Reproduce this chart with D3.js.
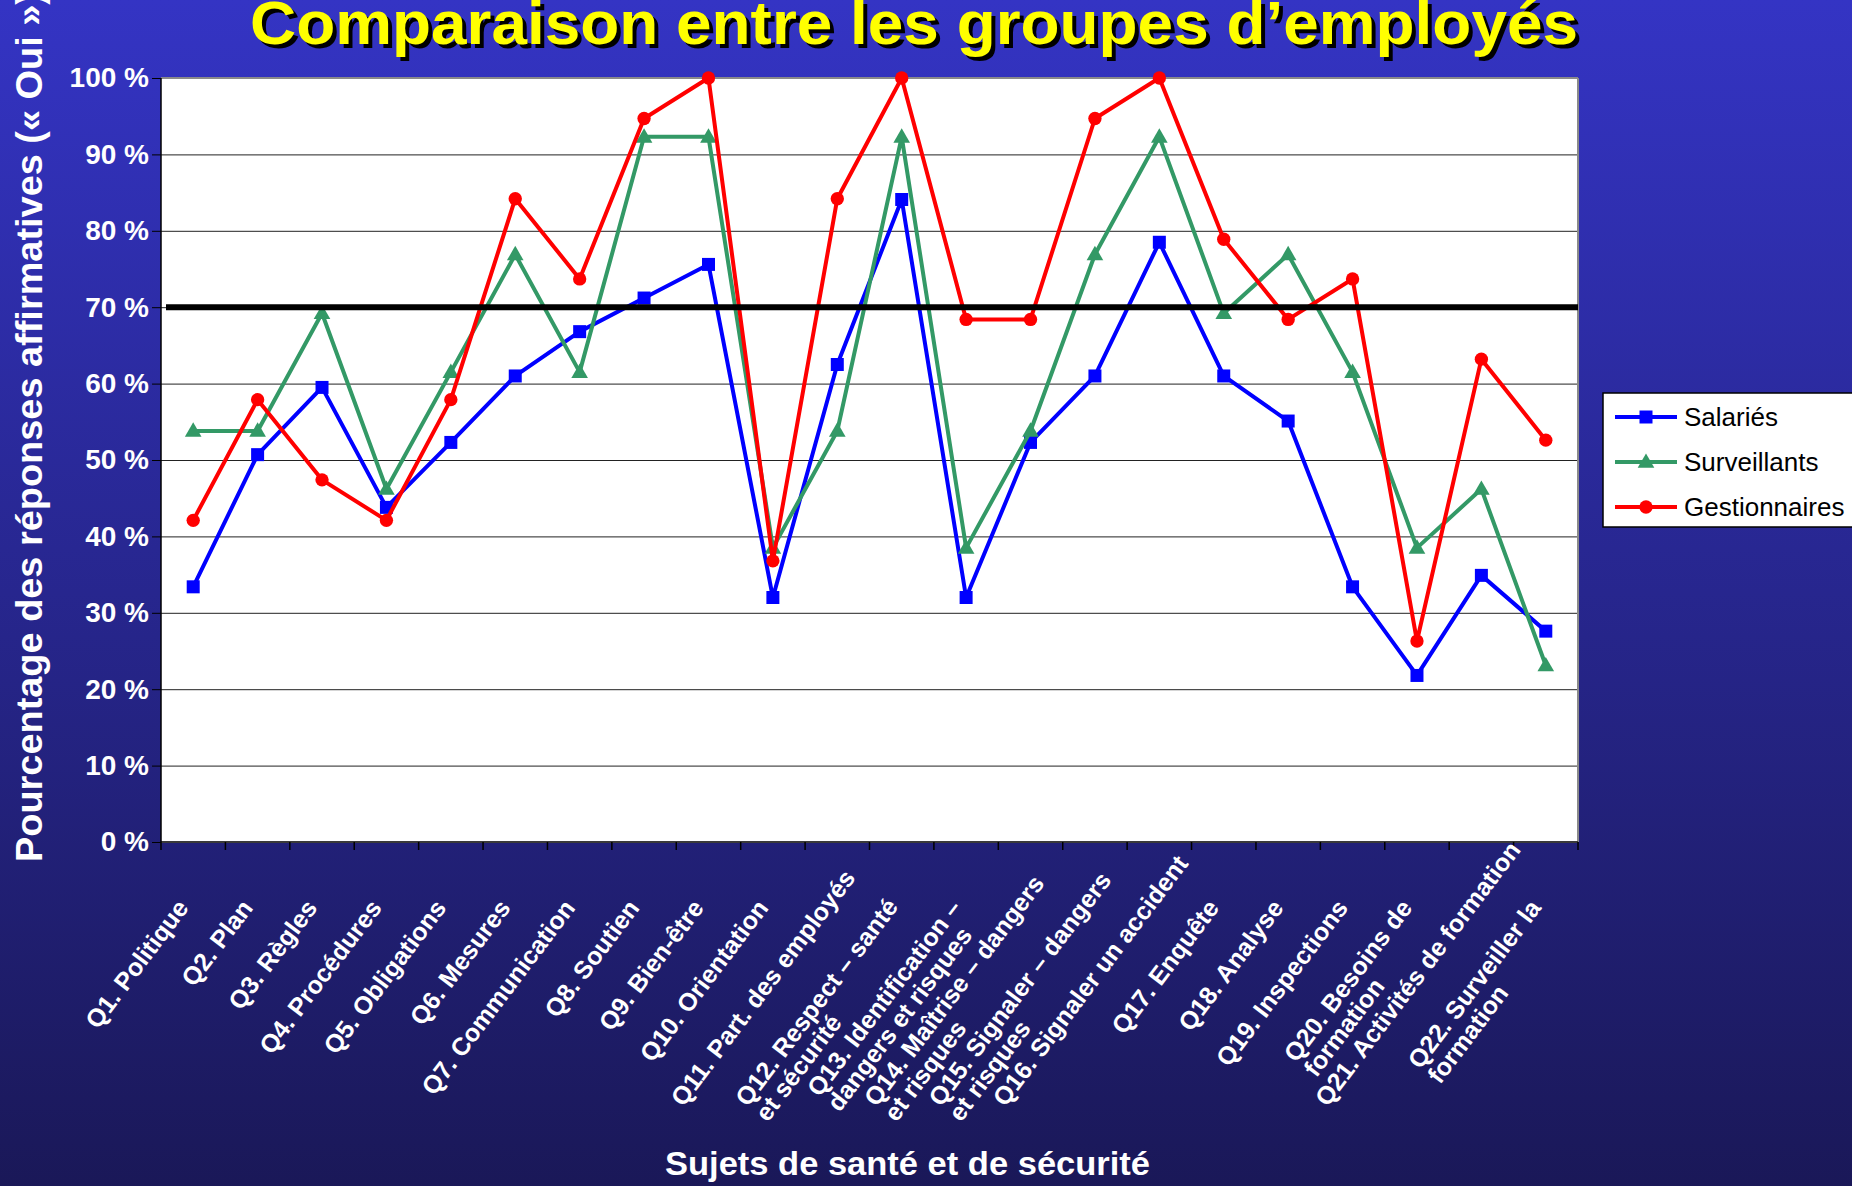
<!DOCTYPE html>
<html>
  <head>
    <meta charset="utf-8">
    <script src="https://d3js.org/d3.v7.min.js"></script>
    <title>Comparaison entre les groupes d’employés</title>
    <style>
      body {
        margin: 0px;
        background: #1a1858;
      }
      svg {
        display: block;
        font-family: 'Liberation Sans', Arial, sans-serif;
      }
      .domain {
        display: none;
      }
      .y-axis text {
        fill: #ffffff;
        font-size: 28px;
        font-weight: bold;
      }
      .y-axis line {
        stroke: #000000;
      }
      .grid line {
        stroke: #222222;
        stroke-width: 1;
      }
      .cat-label {
        fill: #ffffff;
        font-size: 25px;
        font-weight: bold;
      }
      .axis-label {
        fill: #ffffff;
        font-weight: bold;
      }
      .legend-text {
        fill: #000000;
        font-size: 26px;
      }
    </style>
  </head>
  <body>
    <svg width="1852" height="1186"></svg>
    <script>
      const title = 'Comparaison entre les groupes d’employés';
      const xLabel = 'Sujets de santé et de sécurité';
      const yLabel = 'Pourcentage des réponses affirmatives (« Oui »)';

      const categories = [
        'Q1. Politique', 'Q2. Plan', 'Q3. Règles', 'Q4. Procédures', 'Q5. Obligations',
        'Q6. Mesures', 'Q7. Communication', 'Q8. Soutien', 'Q9. Bien-être', 'Q10. Orientation',
        'Q11. Part. des employés', 'Q12. Respect – santé\net sécurité',
        'Q13. Identification –\ndangers et risques', 'Q14. Maîtrise – dangers\net risques',
        'Q15. Signaler – dangers\net risques', 'Q16. Signaler un accident', 'Q17. Enquête',
        'Q18. Analyse', 'Q19. Inspections', 'Q20. Besoins de\nformation',
        'Q21. Activités de formation', 'Q22. Surveiller la\nformation'
      ];

      const salaries = [33.4, 50.7, 59.5, 43.8, 52.3, 61.0, 66.8, 71.2, 75.6, 32.0, 62.5,
                        84.1, 32.0, 52.3, 61.0, 78.5, 61.0, 55.1, 33.4, 21.8, 34.9, 27.6];
      const surveillants = [53.8, 53.8, 69.2, 46.2, 61.5, 76.9, 61.5, 92.3, 92.3, 38.5, 53.8,
                            92.3, 38.5, 53.8, 76.9, 92.3, 69.2, 76.9, 61.5, 38.5, 46.2, 23.1];
      const gestionnaires = [42.1, 57.9, 47.4, 42.1, 57.9, 84.2, 73.7, 94.7, 100, 36.8, 84.2,
                             100, 68.4, 68.4, 94.7, 100, 78.9, 68.4, 73.7, 26.3, 63.2, 52.6];

      const seriesNames = ['Salariés', 'Surveillants', 'Gestionnaires'];
      const yTicks = [0, 10, 20, 30, 40, 50, 60, 70, 80, 90, 100];
      const threshold = 70;

      const series = [
        { name: seriesNames[0], values: salaries, color: '#0000ff', marker: 'square' },
        { name: seriesNames[1], values: surveillants, color: '#339966', marker: 'triangle' },
        { name: seriesNames[2], values: gestionnaires, color: '#ff0000', marker: 'circle' }
      ];

      const margin = { left: 161, right: 274, top: 78, bottom: 344 };

      const svg = d3.select('svg');
      const width = +svg.attr('width');
      const height = +svg.attr('height');
      const innerWidth = width - margin.left - margin.right;
      const innerHeight = height - margin.top - margin.bottom;

      // slide background
      const grad = svg.append('defs').append('linearGradient')
          .attr('id', 'bg')
          .attr('x1', 0).attr('y1', 0).attr('x2', 0).attr('y2', 1);
      grad.append('stop').attr('offset', '0%').attr('stop-color', '#3434c4');
      grad.append('stop').attr('offset', '100%').attr('stop-color', '#1a1858');
      svg.append('rect')
          .attr('width', width)
          .attr('height', height)
          .attr('fill', 'url(#bg)');

      const xScale = d3.scaleBand()
          .domain(categories)
          .range([0, innerWidth]);
      const yScale = d3.scaleLinear()
          .domain([0, 100])
          .range([innerHeight, 0]);
      const xPos = (d, i) => xScale(categories[i]) + xScale.bandwidth() / 2;

      const g = svg.append('g')
          .attr('transform', `translate(${margin.left},${margin.top})`);

      // plot area
      g.append('rect')
          .attr('width', innerWidth)
          .attr('height', innerHeight)
          .attr('fill', '#ffffff');

      g.append('g')
          .attr('class', 'grid')
          .call(d3.axisLeft(yScale)
            .tickValues(yTicks.slice(1, -1))
            .tickSize(-innerWidth)
            .tickFormat(''));

      // plot border (grey top and right, axes left and bottom)
      g.append('line')
          .attr('x1', 0).attr('x2', innerWidth)
          .attr('y1', 0).attr('y2', 0)
          .attr('stroke', '#8a8a8a').attr('stroke-width', 2);
      g.append('line')
          .attr('x1', innerWidth).attr('x2', innerWidth)
          .attr('y1', 0).attr('y2', innerHeight)
          .attr('stroke', '#8a8a8a').attr('stroke-width', 2);
      g.append('line')
          .attr('x1', 0).attr('x2', innerWidth)
          .attr('y1', innerHeight).attr('y2', innerHeight)
          .attr('stroke', '#3a3a3a').attr('stroke-width', 2);
      g.append('line')
          .attr('x1', 0).attr('x2', 0)
          .attr('y1', 0).attr('y2', innerHeight)
          .attr('stroke', '#000000').attr('stroke-width', 1.5);

      g.append('g')
          .attr('class', 'y-axis')
          .call(d3.axisLeft(yScale)
            .tickValues(yTicks)
            .tickSize(9)
            .tickPadding(3)
            .tickFormat(d => d + ' %'));

      // category tick marks between bands
      g.append('g').selectAll('line')
        .data(d3.range(categories.length + 1))
        .enter().append('line')
          .attr('x1', i => i * xScale.step())
          .attr('x2', i => i * xScale.step())
          .attr('y1', innerHeight)
          .attr('y2', innerHeight + 8)
          .attr('stroke', '#000000')
          .attr('stroke-width', 1.5);

      // rotated category labels, wrapped lines left-aligned;
      // long labels are pulled up so they stay inside the label band
      const labelG = g.append('g')
        .selectAll('g')
        .data(categories)
        .enter().append('g')
          .attr('transform', d => `translate(${xScale(d) + xScale.bandwidth() / 2},${innerHeight}) rotate(-53)`);

      labelG.each(function(d) {
        const lines = d.split('\n');
        const sel = d3.select(this);
        const first = sel.append('text')
            .attr('class', 'cat-label')
            .attr('y', 37)
            .attr('text-anchor', 'end')
            .text(lines[0]);
        const len = first.node().getComputedTextLength();
        const endX = Math.max(-55, len - 305);
        first.attr('x', endX);
        lines.slice(1).forEach((line, k) => {
          sel.append('text')
              .attr('class', 'cat-label')
              .attr('x', endX - len)
              .attr('y', 37 + (k + 1) * 25)
              .attr('text-anchor', 'start')
              .text(line);
        });
      });

      // series
      const line = d3.line()
          .x(xPos)
          .y(d => yScale(d));

      const symbolFor = {
        square: d3.symbol(d3.symbolSquare, 169),
        triangle: d3.symbol(d3.symbolTriangle, 120),
        circle: d3.symbol(d3.symbolCircle, 140)
      };

      series.forEach(s => {
        g.append('path')
            .datum(s.values)
            .attr('fill', 'none')
            .attr('stroke', s.color)
            .attr('stroke-width', 4)
            .attr('stroke-linejoin', 'round')
            .attr('d', line);

        g.append('g').selectAll('path')
          .data(s.values)
          .enter().append('path')
            .attr('transform', (d, i) => `translate(${xPos(d, i)},${yScale(d) + (s.marker === 'triangle' ? 1 : 0)})`)
            .attr('d', symbolFor[s.marker])
            .attr('fill', s.color);
      });

      // 70 % target line
      g.append('line')
          .attr('x1', 5)
          .attr('x2', innerWidth)
          .attr('y1', yScale(threshold))
          .attr('y2', yScale(threshold))
          .attr('stroke', '#000000')
          .attr('stroke-width', 6);

      // legend
      const legendG = svg.append('g')
          .attr('transform', 'translate(1603,393)');
      legendG.append('rect')
          .attr('width', 270)
          .attr('height', 134)
          .attr('fill', '#ffffff')
          .attr('stroke', '#000000')
          .attr('stroke-width', 1.5);
      const cell = legendG.selectAll('g.cell')
        .data(series)
        .enter().append('g')
          .attr('class', 'cell')
          .attr('transform', (d, i) => `translate(0,${24 + i * 45})`);
      cell.append('line')
          .attr('x1', 12).attr('x2', 74)
          .attr('stroke', d => d.color)
          .attr('stroke-width', 4);
      cell.append('path')
          .attr('transform', d => `translate(43,${d.marker === 'triangle' ? 1 : 0})`)
          .attr('d', d => symbolFor[d.marker]())
          .attr('fill', d => d.color);
      cell.append('text')
          .attr('class', 'legend-text')
          .attr('x', 81)
          .attr('dy', '0.35em')
          .text(d => d.name);

      // axis titles
      svg.append('text')
          .attr('class', 'axis-label')
          .attr('transform', 'translate(42,862) rotate(-90)')
          .attr('text-anchor', 'start')
          .attr('textLength', 870)
          .attr('lengthAdjust', 'spacingAndGlyphs')
          .style('font-size', '36px')
          .text(yLabel);

      svg.append('text')
          .attr('class', 'axis-label')
          .attr('x', 665)
          .attr('y', 1175)
          .attr('textLength', 485)
          .attr('lengthAdjust', 'spacingAndGlyphs')
          .style('font-size', '33px')
          .text(xLabel);

      // slide title with drop shadow
      [['#000000', 4], ['#ffff00', 0]].forEach(([fill, off]) => {
        svg.append('text')
            .attr('x', 250 + off)
            .attr('y', 44 + off)
            .attr('textLength', 1328)
            .attr('lengthAdjust', 'spacingAndGlyphs')
            .attr('fill', fill)
            .style('font-size', '62px')
            .style('font-weight', 'bold')
            .text(title);
      });
    </script>
  </body>
</html>
